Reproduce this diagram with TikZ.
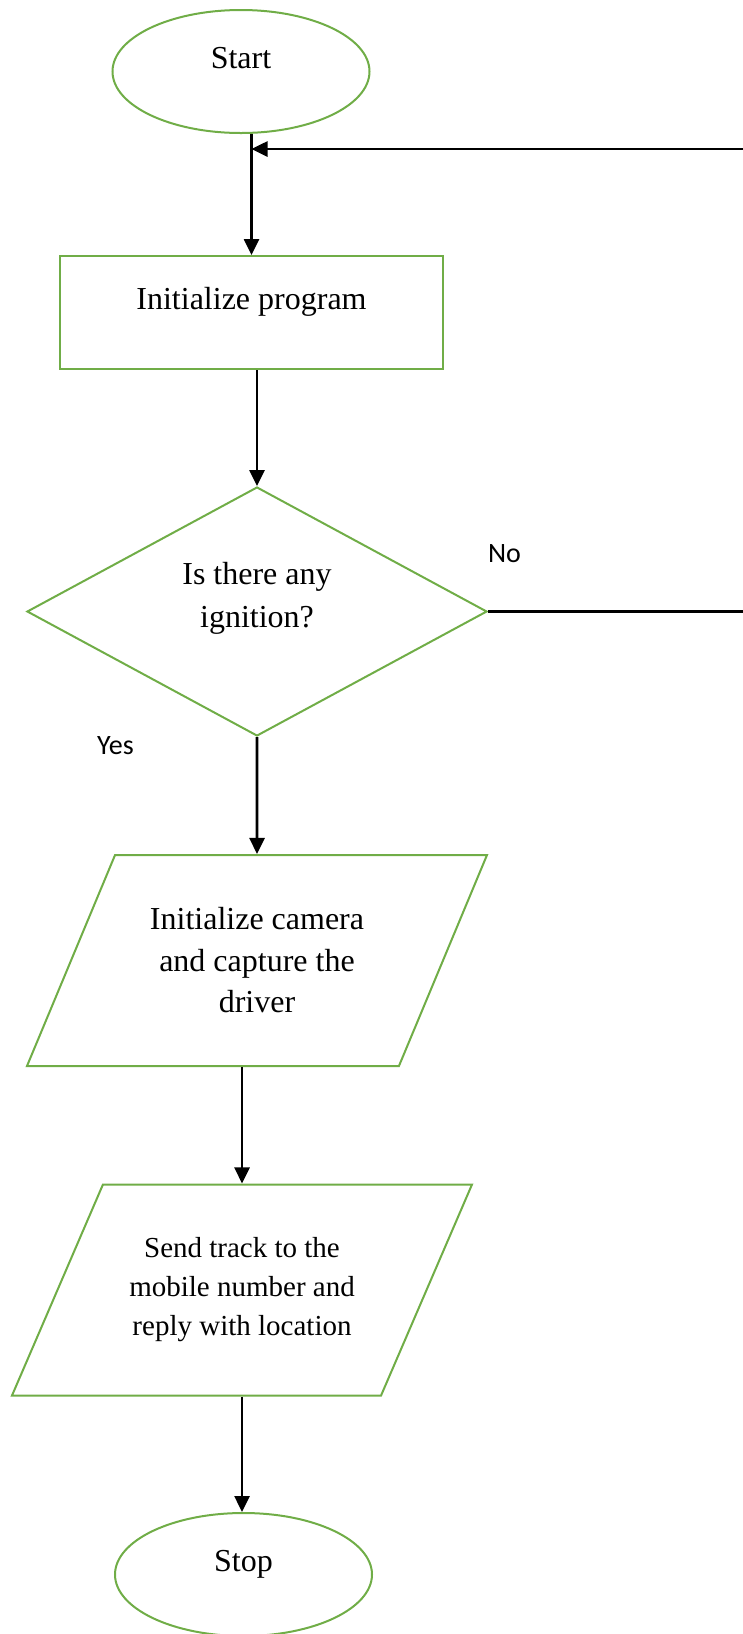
\documentclass[tikz,border=0pt]{standalone}
\usepackage{fontspec}
\setmainfont{Liberation Serif}
\newfontfamily\labelfont{Carlito}
\usetikzlibrary{arrows.meta,shapes.geometric}
\definecolor{boxgreen}{RGB}{112,173,71}

\begin{document}
\begin{tikzpicture}[x=1pt,y=-1pt,>={Triangle[length=16pt,width=15pt]},
	outline/.style={draw=boxgreen,line width=2pt,inner sep=2pt,align=center,
		font=\fontsize{32}{43}\selectfont},
	term/.style={outline,ellipse,minimum width=257pt,minimum height=123pt,text depth=28pt},
	proc/.style={outline,rectangle,minimum width=383pt,minimum height=113pt,text depth=28pt},
	decide/.style={outline,diamond,aspect=1.85,minimum width=460pt,minimum height=249pt,
		text depth=33pt},
	% slant angle is taken on the natural text height, so it is set per box
	io/.style={outline,trapezium,trapezium left angle=#1,trapezium right angle=180-#1,
		trapezium stretches body,minimum width=460pt,minimum height=211pt},
	flow/.style={->,line width=2.6pt},
	yesno/.style={font=\labelfont\fontsize{28}{34}\selectfont}]

\useasboundingbox (0,0) rectangle (742,1634);

\node[term] (start) at (241,71.5) {Start};
\node[proc] (init) at (251.5,312.5) {Initialize program};
\node[decide] (dec) at (257,611.5) {Is there any\\ignition?};
\node[io=51.2,font=\fontsize{32}{41.5}\selectfont] (cam) at (257,960.5)
	{Initialize camera\\and capture the\\driver};
\node[io=50,font=\fontsize{29}{39}\selectfont] (trk) at (242,1290)
	{Send track to the\\mobile number and\\reply with location};
\node[term] (stop) at (243.5,1574.5) {Stop};

\node[yesno] (no) at (504.5,554) {No};
\node[yesno] (yes) at (115.5,746) {Yes};

% the No branch runs off the page and comes back in at the top
\coordinate (back) at (748,149);

\draw[flow] (start.south -| init.north) -- (init.north);
\draw[flow] (dec.east) -- (dec.east -| back) -- (back) -- (back -| init.north);
\draw[flow] (init.south -| dec.north) -- (dec.north);
\draw[flow] (dec.south) -- (cam.north);
\draw[flow] (cam.south -| trk.north) -- (trk.north);
\draw[flow] (trk.south) -- (trk.south |- stop.north);

\end{tikzpicture}
\end{document}
